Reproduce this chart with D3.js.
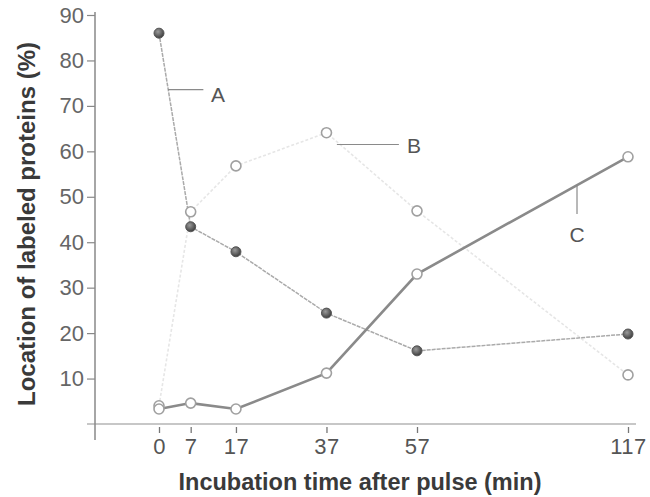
<!DOCTYPE html>
<html>
<head>
<meta charset="utf-8">
<script src="https://cdn.jsdelivr.net/npm/d3@7/dist/d3.min.js"></script>
<style>
  body { margin: 0; background: #fff; }
  text { font-family: "Liberation Sans", Arial, sans-serif; }
</style>
</head>
<body>
<div class="canvas"></div>
<script>
// data
const times = [0, 7, 17, 37, 57, 117];
const seriesA = [86, 43.4, 37.9, 24.4, 16.1, 19.8];
const seriesB = [4, 46.7, 56.8, 64.1, 46.9, 10.8];
const seriesC = [3.3, 4.6, 3.3, 11.2, 33, 58.8];
const yTicks = [10, 20, 30, 40, 50, 60, 70, 80, 90];

const svgWidth = 650;
const svgHeight = 497;

const svg = d3.select('.canvas')
    .append('svg')
    .attr('width', svgWidth)
    .attr('height', svgHeight);

// scales - time axis is squeezed after 57 min in the original
const x = d3.scaleLinear()
    .domain([0, 57, 117])
    .range([159, 417, 628]);

const y = d3.scaleLinear()
    .domain([0, 90])
    .range([424, 15]);

// shading for the filled markers
const defs = svg.append('defs');
const grad = defs.append('radialGradient')
    .attr('id', 'dot')
    .attr('cx', '40%').attr('cy', '35%').attr('r', '65%');
grad.append('stop').attr('offset', '0%').attr('stop-color', '#9a9a9a');
grad.append('stop').attr('offset', '100%').attr('stop-color', '#3e3e3e');

/*** AXES ***/
// x axis: long light line, ticks hang a little below it
svg.append('line')
    .attr('x1', 87).attr('x2', 636)
    .attr('y1', y(0)).attr('y2', y(0))
    .attr('stroke', '#b4b4b4')
    .attr('stroke-width', 1.3);

const xAxis = d3.axisBottom(x)
    .tickValues(times)
    .tickSize(6)
    .tickPadding(5)
    .tickFormat(d => d);

const xAxisGroup = svg.append('g')
    .attr('transform', `translate(0, ${y(0) + 3})`)
    .call(xAxis);
xAxisGroup.select('.domain').remove();
xAxisGroup.selectAll('line').attr('stroke', '#777').attr('stroke-width', 1.3);
xAxisGroup.selectAll('text')
    .attr('fill', '#555')
    .attr('font-size', 22)
    .attr('letter-spacing', 0.5)
    .attr('font-family', '"Liberation Sans", Arial, sans-serif');

// y axis
const yAxis = d3.axisLeft(y)
    .tickValues(yTicks)
    .tickSize(8)
    .tickPadding(3)
    .tickFormat(d => d);

const yAxisGroup = svg.append('g')
    .attr('transform', 'translate(95, 0)')
    .call(yAxis);
yAxisGroup.select('.domain').remove();
yAxisGroup.selectAll('line').attr('stroke', '#888').attr('stroke-width', 1.2);
yAxisGroup.selectAll('text')
    .attr('fill', '#666')
    .attr('font-size', 22)
    .attr('font-family', '"Liberation Sans", Arial, sans-serif');

svg.append('line')
    .attr('x1', 95).attr('x2', 95)
    .attr('y1', 12).attr('y2', 440)
    .attr('stroke', '#888')
    .attr('stroke-width', 1.5);

// axis titles
svg.append('text')
    .attr('x', 360)
    .attr('y', 490)
    .attr('text-anchor', 'middle')
    .attr('font-size', 23.5)
    .attr('font-weight', 'bold')
    .attr('fill', '#3a3a3a')
    .text('Incubation time after pulse (min)');

svg.append('text')
    .attr('transform', 'translate(35, 224) rotate(-90)')
    .attr('text-anchor', 'middle')
    .attr('font-size', 24)
    .attr('font-weight', 'bold')
    .attr('fill', '#3a3a3a')
    .text('Location of labeled proteins (%)');

/*** LINES ***/
const line = d3.line()
    .x(d => x(d[0]))
    .y(d => y(d[1]));

const series = [
    { name: 'B', values: seriesB, stroke: '#e6e6e6', width: 1.6, dash: '3,2', filled: false },
    { name: 'A', values: seriesA, stroke: '#aaaaaa', width: 1.5, dash: '4,1', filled: true },
    { name: 'C', values: seriesC, stroke: '#8a8a8a', width: 2.6, dash: null, filled: false }
];

series.forEach(s => {
    const pts = times.map((t, i) => [t, s.values[i]]);
    svg.append('path')
        .datum(pts)
        .attr('d', line)
        .attr('fill', 'none')
        .attr('stroke', s.stroke)
        .attr('stroke-width', s.width)
        .attr('stroke-dasharray', s.dash);
});

// markers on top of all lines
series.forEach(s => {
    const pts = times.map((t, i) => [t, s.values[i]]);
    svg.append('g').selectAll('circle')
        .data(pts)
        .enter()
        .append('circle')
            .attr('cx', d => x(d[0]))
            .attr('cy', d => y(d[1]))
            .attr('r', 5)
            .attr('fill', s.filled ? 'url(#dot)' : '#fff')
            .attr('stroke', s.filled ? '#555' : '#a0a0a0')
            .attr('stroke-width', s.filled ? 1 : 1.6);
});

/*** CURVE LABELS ***/
// leader lines given in data space (minutes, percent)
const labels = [
    { text: 'A', x1: 2, y1: 73.6, x2: 9.8, y2: 73.6, tx: 11.5, ty: 70.9 },
    { text: 'B', x1: 39.3, y1: 61.5, x2: 53, y2: 61.5, tx: 54.8, ty: 59.6 },
    { text: 'C', x1: 102.5, y1: 52.6, x2: 102.5, y2: 46.2, tx: 102.5, ty: 40.1 }
];

labels.forEach(l => {
    svg.append('line')
        .attr('x1', x(l.x1)).attr('y1', y(l.y1))
        .attr('x2', x(l.x2)).attr('y2', y(l.y2))
        .attr('stroke', '#8a8a8a')
        .attr('stroke-width', 1.2);
    svg.append('text')
        .attr('x', x(l.tx))
        .attr('y', y(l.ty))
        .attr('text-anchor', l.text === 'C' ? 'middle' : 'start')
        .attr('font-size', 21)
        .attr('fill', '#555')
        .text(l.text);
});
</script>
</body>
</html>
